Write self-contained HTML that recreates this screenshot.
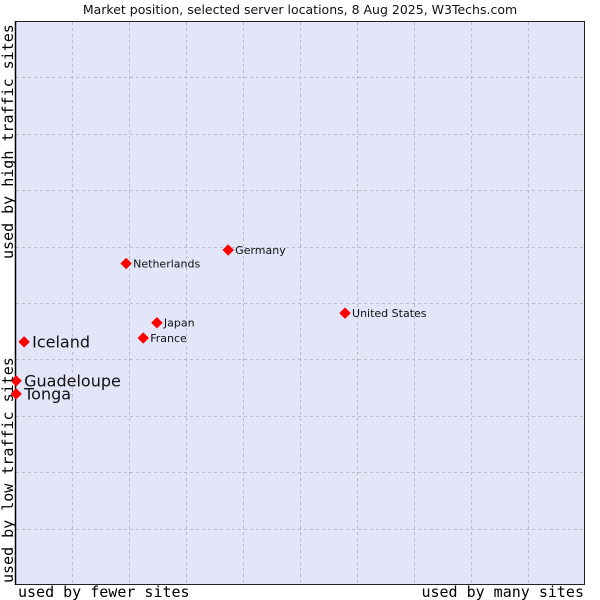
<!DOCTYPE html>
<html><head><meta charset="utf-8"><style>
body{margin:0;background:#fff;}
svg{display:block;font-family:"DejaVu Sans","Liberation Sans",sans-serif;}
.mono{font-family:"DejaVu Sans Mono","Liberation Mono",monospace;}
</style></head><body>
<svg id="chart" width="600" height="600">
<text x="300" y="14" text-anchor="middle" font-size="12.5" fill="#111">Market position, selected server locations, 8 Aug 2025, W3Techs.com</text>
<rect x="15.5" y="21.5" width="569" height="563" fill="#e3e5f8" stroke="#222" stroke-width="1"/>
<g id="grid"></g>
<line x1="15.5" y1="21" x2="15.5" y2="585" stroke="#000" stroke-width="1.5"/>
<g id="points"></g>
<text class="mono" x="18" y="597" font-size="15" fill="#000">used by fewer sites</text>
<text class="mono" x="584" y="597" font-size="15" text-anchor="end" fill="#000">used by many sites</text>
<text class="mono" transform="translate(13,583) rotate(-90)" font-size="15" fill="#000">used by low traffic sites</text>
<text class="mono" transform="translate(13,259) rotate(-90)" font-size="15" fill="#000">used by high traffic sites</text>
</svg>
<script>
const names=["Iceland","Guadeloupe","Tonga","Japan","France","Netherlands","Germany","United States"];
const xVals=[1.6,0.2,0.2,24.9,22.5,19.5,37.4,57.9];
const yVals=[43.1,36.2,33.9,46.5,43.8,57.0,59.4,48.2];
const big=[true,true,true,false,false,false,false,false];
const X0=15,X1=585,Y0=585,Y1=21;
const sx=v=>X0+v/100*(X1-X0);
const sy=v=>Y0-v/100*(Y0-Y1);
const NS="http://www.w3.org/2000/svg";
const grid=document.getElementById('grid');
for(let i=1;i<10;i++){
 const gx=Math.round(sx(i*10))+0.5;
 const l=document.createElementNS(NS,'line');
 l.setAttribute('x1',gx);l.setAttribute('x2',gx);l.setAttribute('y1',22);l.setAttribute('y2',584);
 l.setAttribute('stroke','#bcbcc4');l.setAttribute('stroke-dasharray','3,3');
 
 
 grid.appendChild(l);
 const gy=Math.round(sy(i*10))+0.5;
 const h=document.createElementNS(NS,'line');
 h.setAttribute('y1',gy);h.setAttribute('y2',gy);h.setAttribute('x1',16);h.setAttribute('x2',584);
 h.setAttribute('stroke','#bcbcc4');h.setAttribute('stroke-dasharray','3,3');
 
 
 grid.appendChild(h);
}
const pts=document.getElementById('points');
names.forEach((n,i)=>{
 const px=sx(xVals[i]),py=sy(yVals[i]);
 const d=document.createElementNS(NS,'path');
 d.setAttribute('d',`M${px-5},${py} L${px},${py-5} L${px+5},${py} L${px},${py+5} Z`);
 d.setAttribute('fill','#f00');
 d.setAttribute('stroke','#f00');
 d.setAttribute('stroke-width','1');
 d.setAttribute('stroke-linejoin','round');
 
 
 pts.appendChild(d);
 const t=document.createElementNS(NS,'text');
 t.setAttribute('x',px+(big[i]?8:7));
 t.setAttribute('y',py+(big[i]?5.5:4));
 t.setAttribute('font-size',big[i]?'16':'11');
 t.setAttribute('fill','#111');
 t.textContent=n;
 
 
 pts.appendChild(t);
});
</script>
</body></html>
